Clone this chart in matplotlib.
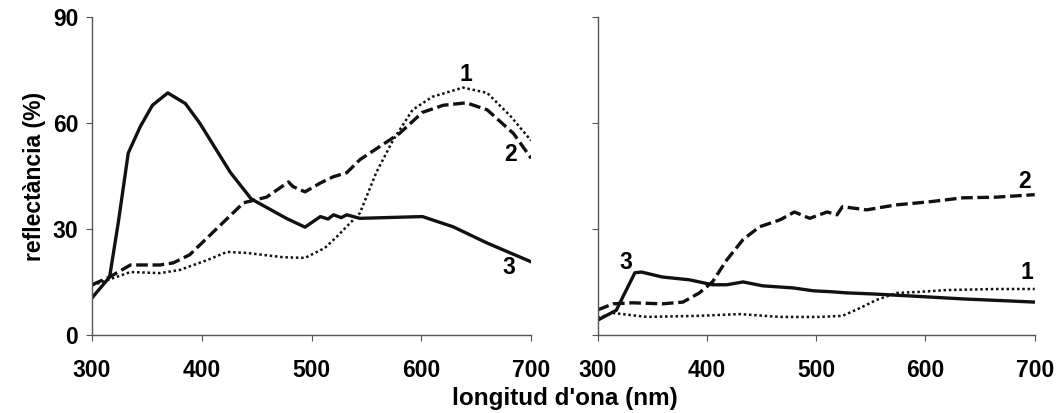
import matplotlib.pyplot as plt

plt.rcParams['font.family'] = ['Liberation Sans', 'DejaVu Sans']
plt.rcParams['font.weight'] = 'bold'

# left panel (nm, reflectance %)
l1_x = [300, 335, 362, 380, 405, 423, 441, 474, 494, 512, 523, 538, 544, 559, 574, 592, 610, 638, 660, 681, 700]
l1_y = [14, 17.8, 17.5, 18.4, 21.2, 23.5, 23.2, 22, 21.8, 24.6, 27.8, 32.6, 34.5, 46, 55, 63.7, 67.4, 70, 68.5, 62, 55]

l2_x = [300, 316, 335, 362, 374, 389, 405, 420, 438, 459, 479, 483, 494, 508, 520, 532, 544, 580, 601, 620, 641, 660, 684, 700]
l2_y = [14.2, 16.4, 19.8, 19.8, 20.4, 22.7, 27.5, 32, 37.4, 39, 43.3, 42, 40.5, 43, 44.8, 45.9, 49.6, 57, 63, 65, 65.7, 63.7, 57, 50]

l3_x = [300, 316, 324, 333, 344, 355, 369, 385, 398, 426, 445, 477, 494, 508, 515, 520, 527, 532, 544, 601, 629, 660, 700]
l3_y = [10.5, 16.4, 32, 51.5, 59, 65, 68.5, 65.5, 60, 46, 38.5, 33, 30.5, 33.5, 32.8, 34, 33.2, 34, 33, 33.5, 30.6, 26, 20.7]

# right panel
r1_x = [300, 314, 345, 391, 430, 467, 503, 524, 540, 555, 574, 595, 619, 665, 700]
r1_y = [4.8, 6.2, 5.1, 5.4, 5.9, 5.1, 5.1, 5.4, 7.6, 9.9, 11.9, 12.2, 12.7, 13, 13]

r2_x = [300, 314, 332, 359, 378, 393, 405, 418, 433, 448, 467, 480, 494, 510, 519, 524, 546, 573, 604, 634, 665, 700]
r2_y = [7.1, 8.8, 9.1, 8.8, 9.3, 11.9, 15, 21.2, 27, 30.6, 32.6, 34.8, 33, 34.8, 34, 36.3, 35.4, 36.8, 37.7, 38.8, 39, 39.7]

r3_x = [300, 317, 323, 334, 340, 359, 384, 405, 418, 433, 451, 479, 497, 515, 528, 552, 588, 634, 700]
r3_y = [4.2, 7, 10.8, 17.6, 17.8, 16.4, 15.6, 14.2, 14.2, 15, 13.9, 13.3, 12.5, 12.2, 11.9, 11.6, 11, 10.2, 9.3]

xticks = [300, 400, 500, 600, 700]
yticks = [0, 30, 60, 90]

fig = plt.figure(figsize=(10.58, 4.13), dpi=100)
axl = fig.add_axes([0.087, 0.189, 0.415, 0.770])
axr = fig.add_axes([0.565, 0.189, 0.413, 0.770])

c = '#111111'
fs = 16.5
for ax, d1, d2, d3 in [(axl, (l1_x, l1_y), (l2_x, l2_y), (l3_x, l3_y)),
                       (axr, (r1_x, r1_y), (r2_x, r2_y), (r3_x, r3_y))]:
    ax.plot(*d1, color=c, lw=1.8, ls=(0, (1, 1.1)))
    ax.plot(*d2, color=c, lw=2.4, ls=(0, (3.5, 1.4)))
    ax.plot(*d3, color=c, lw=2.4, ls='-')
    ax.set_xlim(300, 700)
    ax.set_ylim(0, 90)
    ax.set_xticks(xticks)
    ax.set_yticks(yticks)
    for s in ['top', 'right']:
        ax.spines[s].set_visible(False)
    for s in ['left', 'bottom']:
        ax.spines[s].set_color('#555555')
        ax.spines[s].set_linewidth(1.0)
    ax.tick_params(direction='out', length=4, color='#555555', labelsize=fs)
    ax.tick_params(axis='x', pad=13)
    ax.tick_params(axis='y', pad=6)

axr.set_yticklabels([])

axl.set_ylabel('reflectància (%)', fontsize=fs, fontweight='bold', labelpad=5)
fig.text(0.534, 0.036, "longitud d'ona (nm)", ha='center', va='center', fontsize=17.5, fontweight='bold')

# curve labels
kw = dict(ha='center', va='center', fontsize=fs, fontweight='bold')
axl.text(641, 73.6, '1', **kw)
axl.text(681, 51, '2', **kw)
axl.text(680, 19, '3', **kw)
axr.text(326, 20.4, '3', **kw)
axr.text(691, 43.3, '2', **kw)
axr.text(693, 17.6, '1', **kw)

plt.savefig('out.png')
